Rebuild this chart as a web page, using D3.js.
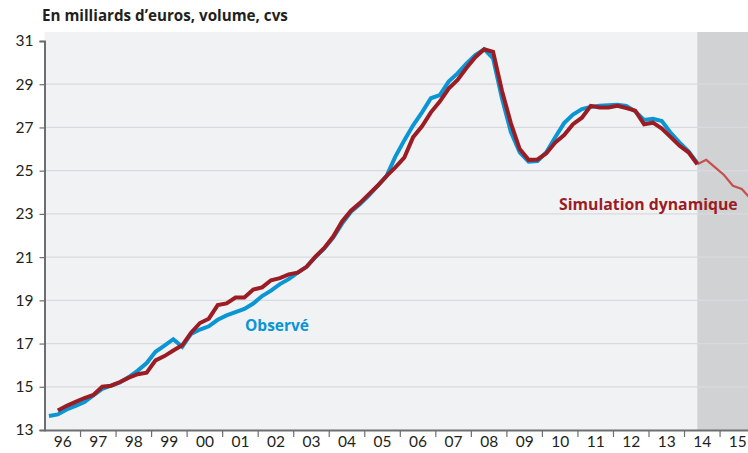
<!DOCTYPE html>
<html>
<head>
<meta charset="utf-8">
<script src="https://cdn.jsdelivr.net/npm/d3@7"></script>
<style>
  html, body { margin: 0; padding: 0; background: #ffffff; }
  svg { display: block; font-family: Lato, "Open Sans", sans-serif; }
</style>
</head>
<body>
<svg id="chart" width="748" height="453"></svg>
<script>
// Quarterly series, in billions of euros (volume, seasonally adjusted)
const observedStart = 1996;        // first quarter: 1996 Q1
const observed = [
  13.65, 13.72, 13.95, 14.12, 14.30, 14.60, 14.90, 15.05,
  15.20, 15.45, 15.75, 16.10, 16.62, 16.90, 17.20, 16.85,
  17.45, 17.65, 17.80, 18.10, 18.30, 18.45, 18.60, 18.85,
  19.20, 19.45, 19.75, 19.98, 20.28, 20.55, 21.00, 21.40,
  21.90, 22.55, 23.10, 23.45, 23.85, 24.30, 24.75, 25.65,
  26.40, 27.10, 27.70, 28.35, 28.50, 29.12, 29.50, 29.95,
  30.35, 30.62, 30.20, 28.35, 26.80, 25.85, 25.42, 25.45,
  25.85, 26.55, 27.20, 27.60, 27.85, 27.95, 28.00, 28.03,
  28.05, 28.00, 27.75, 27.35, 27.40, 27.30, 26.75, 26.30,
  25.90, 25.35
];

const simulationStart = 1996.25;   // first quarter: 1996 Q2
const simulation = [
         13.90, 14.12, 14.30, 14.48, 14.62, 15.00, 15.05,
  15.22, 15.42, 15.58, 15.65, 16.22, 16.42, 16.68, 16.92,
  17.50, 17.95, 18.15, 18.78, 18.86, 19.13, 19.13, 19.50,
  19.60, 19.93, 20.03, 20.20, 20.28, 20.55, 21.02, 21.42,
  21.95, 22.65, 23.15, 23.50, 23.90, 24.30, 24.75, 25.15,
  25.60, 26.55, 27.05, 27.70, 28.20, 28.80, 29.20, 29.75,
  30.25, 30.62, 30.50, 28.70, 27.20, 26.00, 25.50, 25.52,
  25.80, 26.30, 26.65, 27.15, 27.45, 28.00, 27.92, 27.92,
  28.00, 27.90, 27.78, 27.15, 27.22, 26.95, 26.55, 26.15,
  25.85, 25.30, 25.50, 25.15, 24.80, 24.30, 24.15, 23.70
];

const forecastFrom = 2014.25;      // end of observed data, start of the shaded period
const yTicks = [13, 15, 17, 19, 21, 23, 25, 27, 29, 31];
const years = d3.range(1996, 2016);
const yearLabels = years.map(y => String(y).slice(2));

const title = "En milliards d\u2019euros, volume, cvs";
const observedLabel = "Observé";
const simulationLabel = "Simulation dynamique";

const colors = {
  observed: "#0a95d5",
  simulation: "#9c1c24",
  forecast: "#c4504f",
  plotBg: "#f1f2f4",
  shade: "#d1d2d4",
  grid: "#d9dadd",
  axis: "#6d6e71",
  text: "#231f20"
};

const svg = d3.select("#chart");
const W = 748, H = 453;
const plotLeft = 44.5, plotTop = 41, plotBottom = 430, bgTop = 32;
const labelFont = "'Open Sans', Lato, sans-serif";

const x = d3.scaleLinear().domain([1996, 2016]).range([plotLeft, plotLeft + 20 * 35.53]);
const y = d3.scaleLinear().domain([13, 31]).range([plotBottom, plotTop]);

const toPoints = (start, arr) => arr.map((v, i) => ({ t: start + i * 0.25 + 0.125, v }));
const obsPts = toPoints(observedStart, observed);
const simPts = toPoints(simulationStart, simulation);
const simPast = simPts.filter(d => d.t <= forecastFrom + 0.125 + 1e-6);
const simFuture = simPts.filter(d => d.t >= forecastFrom + 0.125 - 1e-6);

// Plot background and shaded forecast period
svg.append("rect")
  .attr("x", plotLeft).attr("y", bgTop)
  .attr("width", W - plotLeft).attr("height", plotBottom - bgTop)
  .attr("fill", colors.plotBg);

svg.append("rect")
  .attr("x", x(forecastFrom + 0.125)).attr("y", bgTop)
  .attr("width", W - x(forecastFrom + 0.125)).attr("height", plotBottom - bgTop)
  .attr("fill", colors.shade);

// Horizontal gridlines
svg.append("g")
  .selectAll("line")
  .data(yTicks.filter(t => t > 13 && t < 31))
  .join("line")
  .attr("x1", plotLeft).attr("x2", W)
  .attr("y1", d => y(d)).attr("y2", d => y(d))
  .attr("stroke", colors.grid)
  .attr("stroke-width", 1.2);

// Series
svg.append("defs").append("clipPath").attr("id", "plot-clip")
  .append("rect").attr("x", plotLeft).attr("y", 0).attr("width", W - plotLeft).attr("height", plotBottom);

const line = d3.line().x(d => x(d.t)).y(d => y(d.v));
const series = svg.append("g").attr("clip-path", "url(#plot-clip)");

series.append("path")
  .datum(obsPts)
  .attr("d", line)
  .attr("fill", "none")
  .attr("stroke", colors.observed)
  .attr("stroke-width", 4)
  .attr("stroke-linejoin", "miter");

series.append("path")
  .datum(simFuture)
  .attr("d", line)
  .attr("fill", "none")
  .attr("stroke", colors.forecast)
  .attr("stroke-width", 2.2);

series.append("path")
  .datum(simPast)
  .attr("d", line)
  .attr("fill", "none")
  .attr("stroke", colors.simulation)
  .attr("stroke-width", 4)
  .attr("stroke-linejoin", "miter");

// Y axis
const yAxis = svg.append("g")
  .attr("transform", `translate(${plotLeft},0)`)
  .call(d3.axisLeft(y).tickValues(yTicks).tickSize(5).tickPadding(6).tickFormat(d3.format("d")));
yAxis.select(".domain").attr("stroke", colors.axis).attr("stroke-width", 2);
yAxis.selectAll(".tick line").attr("stroke", colors.axis).attr("stroke-width", 1.2);
yAxis.selectAll(".tick text")
  .attr("fill", colors.text)
  .style("font-size", "15.5px")
  .style("font-family", "Lato, 'Open Sans', sans-serif");

// X axis: tick marks between years, labels centred on each year
const xAxis = svg.append("g")
  .attr("transform", `translate(0,${plotBottom})`)
  .call(d3.axisBottom(x).tickValues(years.slice(1)).tickSize(7).tickFormat(""));
xAxis.select(".domain").attr("stroke", colors.axis).attr("stroke-width", 2).attr("d", `M${plotLeft},0.5H${W}`);
xAxis.selectAll(".tick line").attr("stroke", colors.axis).attr("stroke-width", 1.2);

const xLabels = svg.append("g")
  .attr("transform", `translate(0,${plotBottom})`)
  .call(d3.axisBottom(x).tickValues(years.map(yr => yr + 0.5)).tickSize(0).tickPadding(6)
    .tickFormat((d, i) => yearLabels[i]));
xLabels.select(".domain").remove();
xLabels.selectAll(".tick text")
  .attr("fill", colors.text)
  .style("font-size", "15.5px")
  .style("font-family", "Lato, 'Open Sans', sans-serif");

// Title and series labels
svg.append("text")
  .attr("x", 42).attr("y", 21)
  .attr("fill", colors.text)
  .style("font-family", labelFont)
  .style("font-size", "15.2px").style("font-weight", "bold")
  .text(title);

svg.append("text")
  .attr("x", 245).attr("y", 331)
  .attr("fill", colors.observed)
  .style("font-family", labelFont)
  .style("font-size", "15.5px").style("font-weight", "bold")
  .text(observedLabel);

svg.append("text")
  .attr("x", 559).attr("y", 210)
  .attr("fill", colors.simulation)
  .style("font-family", labelFont)
  .style("font-size", "15.8px").style("font-weight", "bold")
  .text(simulationLabel);
</script>
</body>
</html>
